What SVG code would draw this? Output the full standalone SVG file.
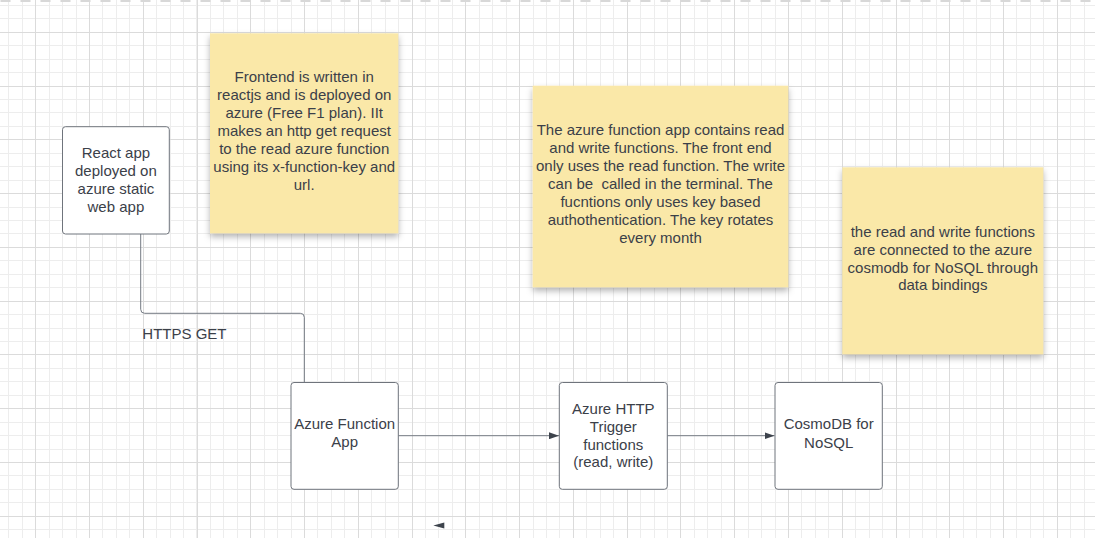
<svg xmlns="http://www.w3.org/2000/svg" xmlns:xlink="http://www.w3.org/1999/xlink" width="1095" height="538" viewBox="0 0 1095 538">
  <style>
    .minor { stroke: #ededed; stroke-width: 1; fill: none; }
    .major { stroke: #dbdbdb; stroke-width: 1; fill: none; }
    .node { fill: #ffffff; stroke: #6f747c; stroke-width: 1; }
    .note { fill: #fae8a8; }
    .txt { font-family: "Liberation Sans", Arial, sans-serif; font-size: 15px; fill: #3b4049; text-anchor: middle; white-space: pre; }
    .lbl { font-family: "Liberation Sans", Arial, sans-serif; font-size: 15px; fill: #3b4049; }
    .conn { stroke: #747a83; stroke-width: 1; fill: none; }
  </style>
  <defs>
    <filter id="shadow" x="-10%" y="-10%" width="120%" height="125%">
      <feDropShadow dx="0" dy="3.5" stdDeviation="3" flood-color="#000" flood-opacity="0.3"/>
    </filter>
    <marker id="arrow" viewBox="0 0 10 7" refX="10" refY="3.5" markerWidth="10" markerHeight="7" markerUnits="userSpaceOnUse" orient="auto">
      <path d="M0 0 L10 3.5 L0 7 Z" fill="#3d434c"/>
    </marker>
    <path id="v10" d="M0 0v538m13.4425-538v538m13.4425-538v538m13.4425-538v538m13.4425-538v538m13.4425-538v538m13.4425-538v538m13.4425-538v538m13.4425-538v538m13.4425-538v538"/>
    <path id="h10" d="M0 0h1095m-1095 13.4425h1095m-1095 13.4425h1095m-1095 13.4425h1095m-1095 13.4425h1095m-1095 13.4425h1095m-1095 13.4425h1095m-1095 13.4425h1095m-1095 13.4425h1095m-1095 13.4425h1095"/>
  </defs>

  <rect width="1095" height="538" fill="#ffffff"/>

  <g id="grid" shape-rendering="crispEdges">
    <g class="minor">
      <use xlink:href="#v10" x="8.8"/>
      <use xlink:href="#v10" x="143.225"/>
      <use xlink:href="#v10" x="277.65"/>
      <use xlink:href="#v10" x="412.075"/>
      <use xlink:href="#v10" x="546.5"/>
      <use xlink:href="#v10" x="680.925"/>
      <use xlink:href="#v10" x="815.35"/>
      <use xlink:href="#v10" x="949.775"/>
      <path d="M1084.2 0v538"/>
      <use xlink:href="#h10" y="5.4"/>
      <use xlink:href="#h10" y="139.825"/>
      <use xlink:href="#h10" y="274.25"/>
      <use xlink:href="#h10" y="408.675"/>
    </g>
    <path class="major" d="M35.7 0v538m53.77-538v538m53.77-538v538m53.77-538v538m53.77-538v538m53.77-538v538m53.77-538v538m53.77-538v538m53.77-538v538m53.77-538v538m53.77-538v538m53.77-538v538m53.77-538v538m53.77-538v538m53.77-538v538m53.77-538v538m53.77-538v538m53.77-538v538m53.77-538v538m53.77-538v538"/>
    <path class="major" d="M0 32.3h1095m-1095 53.77h1095m-1095 53.77h1095m-1095 53.77h1095m-1095 53.77h1095m-1095 53.77h1095m-1095 53.77h1095m-1095 53.77h1095m-1095 53.77h1095m-1095 53.77h1095"/>
  </g>

  <line id="page-edge" x1="0" y1="1" x2="1095" y2="1" stroke="#d8d8d8" stroke-width="2" stroke-dasharray="10 10" stroke-dashoffset="-0.5"/>

  <g id="connectors">
    <path class="conn" d="M140.7 234 V309.3 Q140.7 313.3 144.7 313.3 H300.3 Q304.3 313.3 304.3 317.3 V382.5"/>
    <path class="conn" d="M398.3 435.7 H559" marker-end="url(#arrow)"/>
    <path class="conn" d="M667.3 435.7 H774.5" marker-end="url(#arrow)"/>
    <path d="M433.3 525.6 L444.3 522.6 L444.3 528.6 Z" fill="#3d434c"/>
    <text class="lbl" x="142.3" y="339">HTTPS GET</text>
  </g>

  <g id="note-frontend">
    <rect class="note" x="210" y="33.3" width="188.3" height="200" filter="url(#shadow)"/>
    <text class="txt" x="304.2" y="81.5">Frontend is written in</text>
    <text class="txt" x="304.2" y="99.5">reactjs and is deployed on</text>
    <text class="txt" x="304.2" y="117.5">azure (Free F1 plan). IIt</text>
    <text class="txt" x="304.2" y="135.5">makes an http get request</text>
    <text class="txt" x="304.2" y="153.5">to the read azure function</text>
    <text class="txt" x="304.2" y="171.5">using its x-function-key and</text>
    <text class="txt" x="304.2" y="189.5">url.</text>
  </g>

  <g id="note-functions">
    <rect class="note" x="532.7" y="85.7" width="255.6" height="201.6" filter="url(#shadow)"/>
    <text class="txt" x="660.5" y="135">The azure function app contains read</text>
    <text class="txt" x="660.5" y="153">and write functions. The front end</text>
    <text class="txt" x="660.5" y="171">only uses the read function. The write</text>
    <text class="txt" x="660.5" y="189">can be  called in the terminal. The</text>
    <text class="txt" x="660.5" y="207">fucntions only uses key based</text>
    <text class="txt" x="660.5" y="224.8">authothentication. The key rotates</text>
    <text class="txt" x="660.5" y="242.5">every month</text>
  </g>

  <g id="note-bindings">
    <rect class="note" x="842.3" y="167.3" width="201" height="187" filter="url(#shadow)"/>
    <text class="txt" x="942.8" y="236.7">the read and write functions</text>
    <text class="txt" x="942.8" y="254.5">are connected to the azure</text>
    <text class="txt" x="942.8" y="272.5">cosmodb for NoSQL through</text>
    <text class="txt" x="942.8" y="290.3">data bindings</text>
  </g>

  <g id="react-app">
    <rect class="node" x="62.5" y="126.7" width="106.8" height="107.3" rx="3"/>
    <text class="txt" x="115.9" y="158.3">React app</text>
    <text class="txt" x="115.9" y="176.3">deployed on</text>
    <text class="txt" x="115.9" y="194.3">azure static</text>
    <text class="txt" x="115.9" y="212.3">web app</text>
  </g>

  <g id="azure-function-app">
    <rect class="node" x="291" y="382.5" width="107.3" height="106.8" rx="3"/>
    <text class="txt" x="344.7" y="428.5">Azure Function</text>
    <text class="txt" x="344.7" y="447">App</text>
  </g>

  <g id="http-trigger">
    <rect class="node" x="559.3" y="382.5" width="108" height="106.8" rx="3"/>
    <text class="txt" x="613.3" y="413.8">Azure HTTP</text>
    <text class="txt" x="613.3" y="431.5">Trigger</text>
    <text class="txt" x="613.3" y="449.5">functions</text>
    <text class="txt" x="613.3" y="467.3">(read, write)</text>
  </g>

  <g id="cosmodb">
    <rect class="node" x="775" y="382.5" width="107.3" height="106.8" rx="3"/>
    <text class="txt" x="828.7" y="429.3">CosmoDB for</text>
    <text class="txt" x="828.7" y="447.5">NoSQL</text>
  </g>
</svg>
